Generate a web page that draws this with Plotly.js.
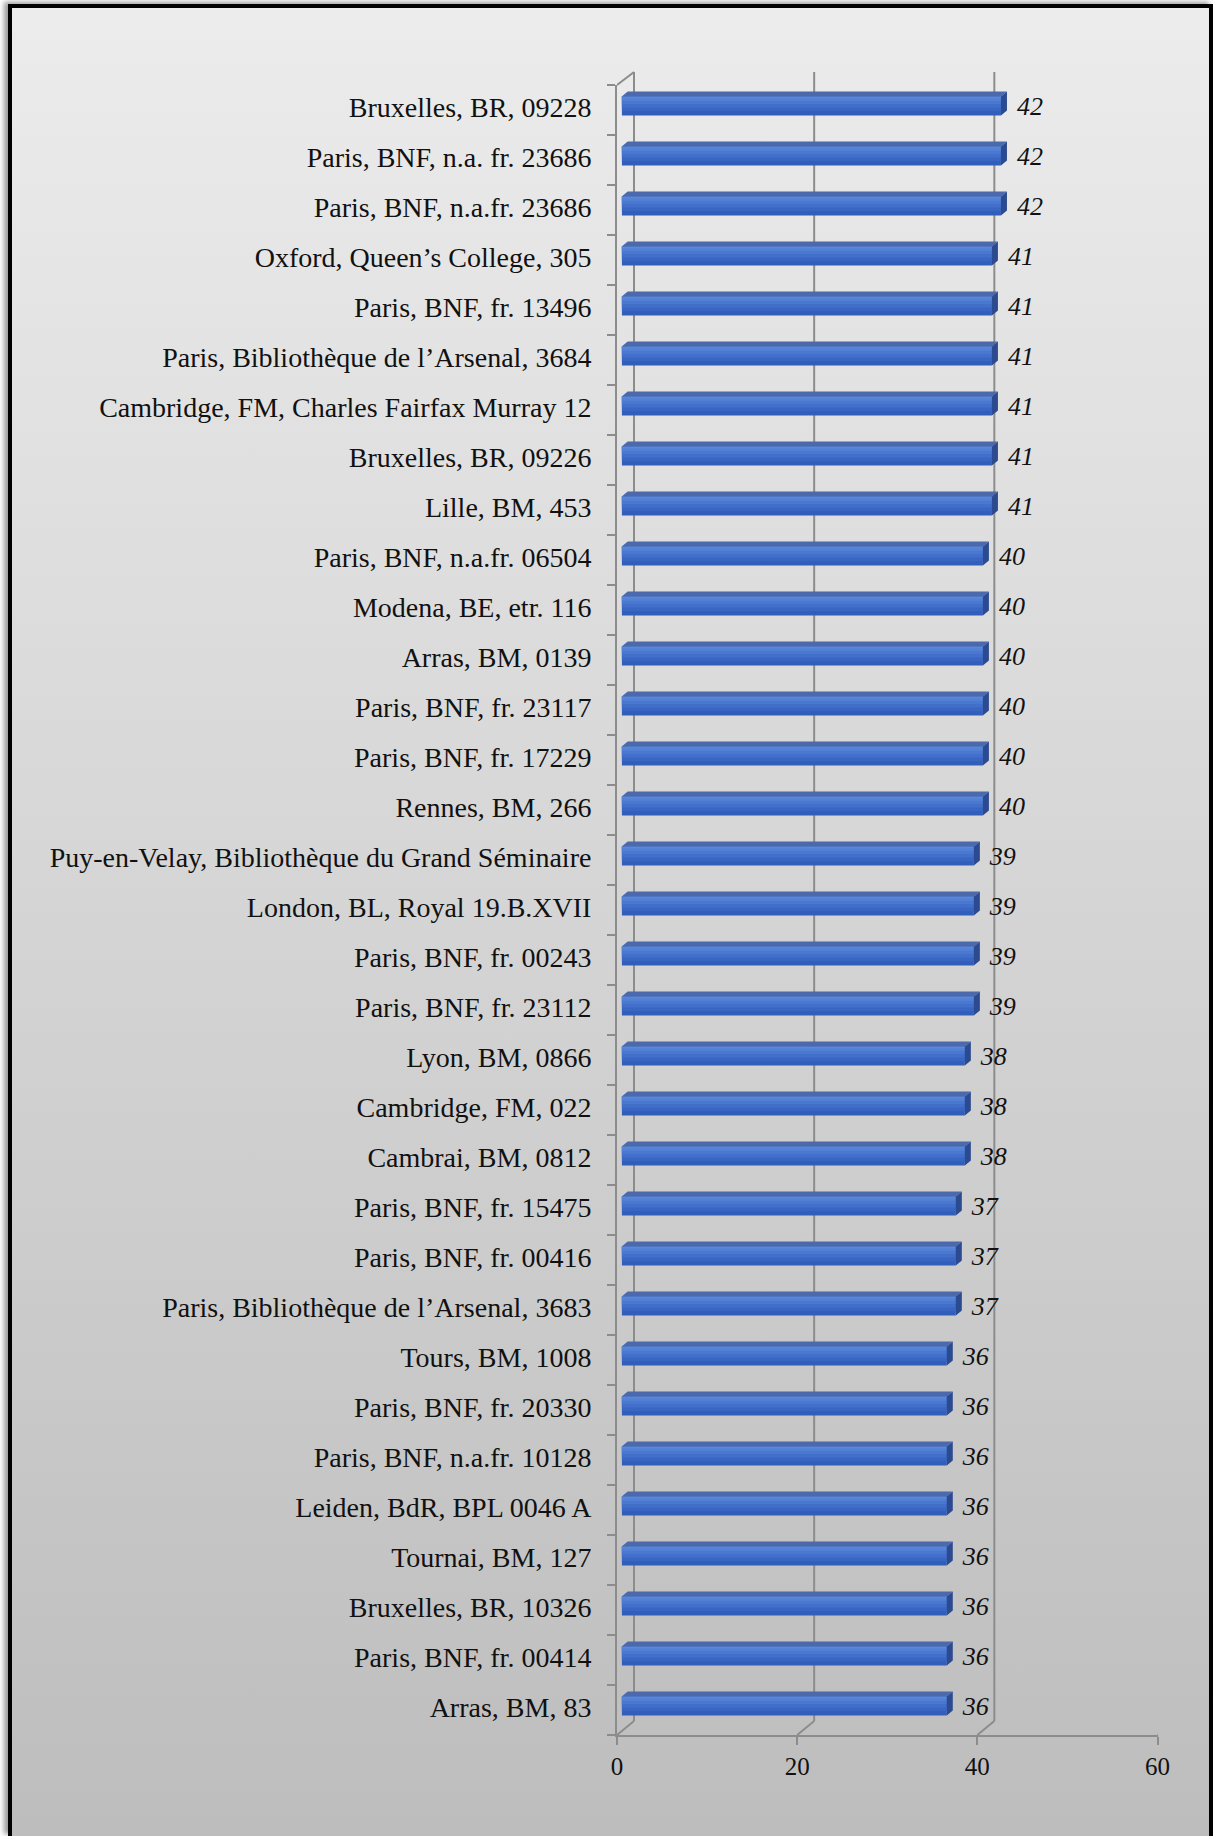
<!DOCTYPE html>
<html><head><meta charset="utf-8">
<script src="https://cdn.plot.ly/plotly-3.0.1.min.js"></script>
<style>
html,body{margin:0;padding:0;width:1213px;height:1836px;overflow:hidden;background:#fff;}
#frame{position:absolute;left:8px;top:4px;width:1205px;height:1832px;box-sizing:border-box;border:4px solid #000;border-bottom:none;background:linear-gradient(to bottom,#ececec 0%,#bdbdbd 100%);box-shadow:-4px -2px 5px rgba(0,0,0,0.4);}
#chart{position:absolute;left:0;top:0;width:1213px;height:1836px;}
</style></head><body>
<div id="frame"></div><div id="chart"></div>
<script>
// ---- data ----
const categories = [
  "Bruxelles, BR, 09228",
  "Paris, BNF, n.a. fr. 23686",
  "Paris, BNF, n.a.fr. 23686",
  "Oxford, Queen’s College, 305",
  "Paris, BNF, fr. 13496",
  "Paris, Bibliothèque de l’Arsenal, 3684",
  "Cambridge, FM, Charles Fairfax Murray 12",
  "Bruxelles, BR, 09226",
  "Lille, BM, 453",
  "Paris, BNF, n.a.fr. 06504",
  "Modena, BE, etr. 116",
  "Arras, BM, 0139",
  "Paris, BNF, fr. 23117",
  "Paris, BNF, fr. 17229",
  "Rennes, BM, 266",
  "Puy-en-Velay, Bibliothèque du Grand Séminaire",
  "London, BL, Royal 19.B.XVII",
  "Paris, BNF, fr. 00243",
  "Paris, BNF, fr. 23112",
  "Lyon, BM, 0866",
  "Cambridge, FM, 022",
  "Cambrai, BM, 0812",
  "Paris, BNF, fr. 15475",
  "Paris, BNF, fr. 00416",
  "Paris, Bibliothèque de l’Arsenal, 3683",
  "Tours, BM, 1008",
  "Paris, BNF, fr. 20330",
  "Paris, BNF, n.a.fr. 10128",
  "Leiden, BdR, BPL 0046 A",
  "Tournai, BM, 127",
  "Bruxelles, BR, 10326",
  "Paris, BNF, fr. 00414",
  "Arras, BM, 83"
];
const values = [42,42,42,41,41,41,41,41,41,40,40,40,40,40,40,39,39,39,39,38,38,38,37,37,37,36,36,36,36,36,36,36,36];
const xTicks = [0,20,40,60];
const xTickLabels = ["0","20","40","60"];

// ---- geometry / style ----
const W = 1213, H = 1836;
const fx = p => p / W, fy = p => 1 - p / H;
const GRID = '#8c8c8c';
const FONT = 'Liberation Serif, Times New Roman, serif';
const idx = categories.map((c, i) => i);
const bounds = categories.map((c, i) => i + 0.5).concat([-0.5]);
const BW = 0.38;                 // bar thickness (category units)
const DXU = 6 / 9.03, DYU = 5 / 50; // bar 3D depth in bar-axis units
const BDX = 17 / 9.0083;         // back wall depth in front-axis units

const traces = [];
// front face: stacked strips to imitate vertical gradient
const strips = [
  {frac: 1.0, color: '#315dbb'},
  {frac: 0.78, color: '#3966c3'},
  {frac: 0.58, color: '#416fca'},
  {frac: 0.40, color: '#4a78d0'},
  {frac: 0.22, color: '#5382d6'},
  {frac: 0.08, color: '#5b89d9'}
];
strips.forEach((s, k) => {
  const t = {
    type: 'bar', orientation: 'h', x: values, y: idx,
    xaxis: 'x2', yaxis: 'y2',
    width: BW * s.frac, offset: -BW / 2,
    marker: {color: s.color, line: {width: 0}},
    hoverinfo: 'skip', cliponaxis: false
  };
  if (k === 0) {
    t.text = values.map(v => '\u00a0\u00a0' + v);
    t.textposition = 'outside';
    t.constraintext = 'none';
    t.outsidetextfont = {family: FONT, size: 26, color: '#111', style: 'italic'};
  }
  traces.push(t);
});
// top and side faces of the 3D bars
const tx = [], ty = [], sx = [], sy = [];
values.forEach((v, i) => {
  const top = i - BW / 2, bot = i + BW / 2;
  tx.push(0, v, v + DXU, DXU, 0, null);
  ty.push(top, top, top - DYU, top - DYU, top, null);
  sx.push(v, v + DXU, v + DXU, v, v, null);
  sy.push(top, top - DYU, bot - DYU, bot, top, null);
});
traces.push({type: 'scatter', mode: 'lines', x: tx, y: ty, xaxis: 'x2', yaxis: 'y2',
  fill: 'toself', fillcolor: '#4b69ab', line: {width: 0, color: 'rgba(0,0,0,0)'}, hoverinfo: 'skip', cliponaxis: false});
traces.push({type: 'scatter', mode: 'lines', x: sx, y: sy, xaxis: 'x2', yaxis: 'y2',
  fill: 'toself', fillcolor: '#2b4a8f', line: {width: 0, color: 'rgba(0,0,0,0)'}, hoverinfo: 'skip', cliponaxis: false});

// back wall & floor lines
const shapes = [];
xTicks.forEach(t => {
  shapes.push({type: 'line', xref: 'x', yref: 'paper', x0: t + BDX, x1: t + BDX, y0: fy(1721), y1: fy(72),
    line: {color: GRID, width: 2}, layer: 'below'});
  shapes.push({type: 'line', xref: 'x', yref: 'paper', x0: t, x1: t + BDX, y0: fy(1735), y1: fy(1721),
    line: {color: GRID, width: 2}, layer: 'below'});
});
shapes.push({type: 'line', xref: 'x', yref: 'paper', x0: 0, x1: BDX, y0: fy(85), y1: fy(72),
  line: {color: GRID, width: 2}, layer: 'below'});

const layout = {
  width: W, height: H, margin: {l: 0, r: 0, t: 0, b: 0},
  paper_bgcolor: 'rgba(0,0,0,0)', plot_bgcolor: 'rgba(0,0,0,0)',
  showlegend: false, barmode: 'overlay',
  font: {family: FONT, color: '#111'},
  xaxis: {domain: [fx(617), fx(1157.5)], range: [0, 60], anchor: 'y',
    tickmode: 'array', tickvals: xTicks, ticktext: xTickLabels,
    ticks: 'outside', ticklen: 8, tickwidth: 2, tickcolor: GRID,
    showline: true, linecolor: GRID, linewidth: 2, showgrid: false, zeroline: false,
    tickfont: {size: 25, family: FONT, color: '#111'}, fixedrange: true},
  yaxis: {domain: [fy(1735), fy(85)], range: [32.5, -0.5], anchor: 'x',
    tickmode: 'array', tickvals: idx, ticktext: categories,
    ticks: 'outside', ticklen: 8, tickcolor: 'rgba(0,0,0,0)',
    ticklabelstandoff: 10, ticklabelshift: 3,
    minor: {tickmode: 'array', tickvals: bounds, ticks: 'outside', ticklen: 8, tickwidth: 2, tickcolor: GRID, showgrid: false},
    showline: true, linecolor: GRID, linewidth: 2, showgrid: false, zeroline: false,
    tickfont: {size: 28, family: FONT, color: '#111'}, fixedrange: true},
  xaxis2: {domain: [fx(621.7), fx(1163.5)], range: [0, 60], anchor: 'y2', visible: false, fixedrange: true},
  yaxis2: {domain: [fy(1731), fy(81)], range: [32.5, -0.5], anchor: 'x2', visible: false, fixedrange: true},
  shapes: shapes
};
Plotly.newPlot('chart', traces, layout, {displayModeBar: false, staticPlot: true});
</script>
</body></html>
